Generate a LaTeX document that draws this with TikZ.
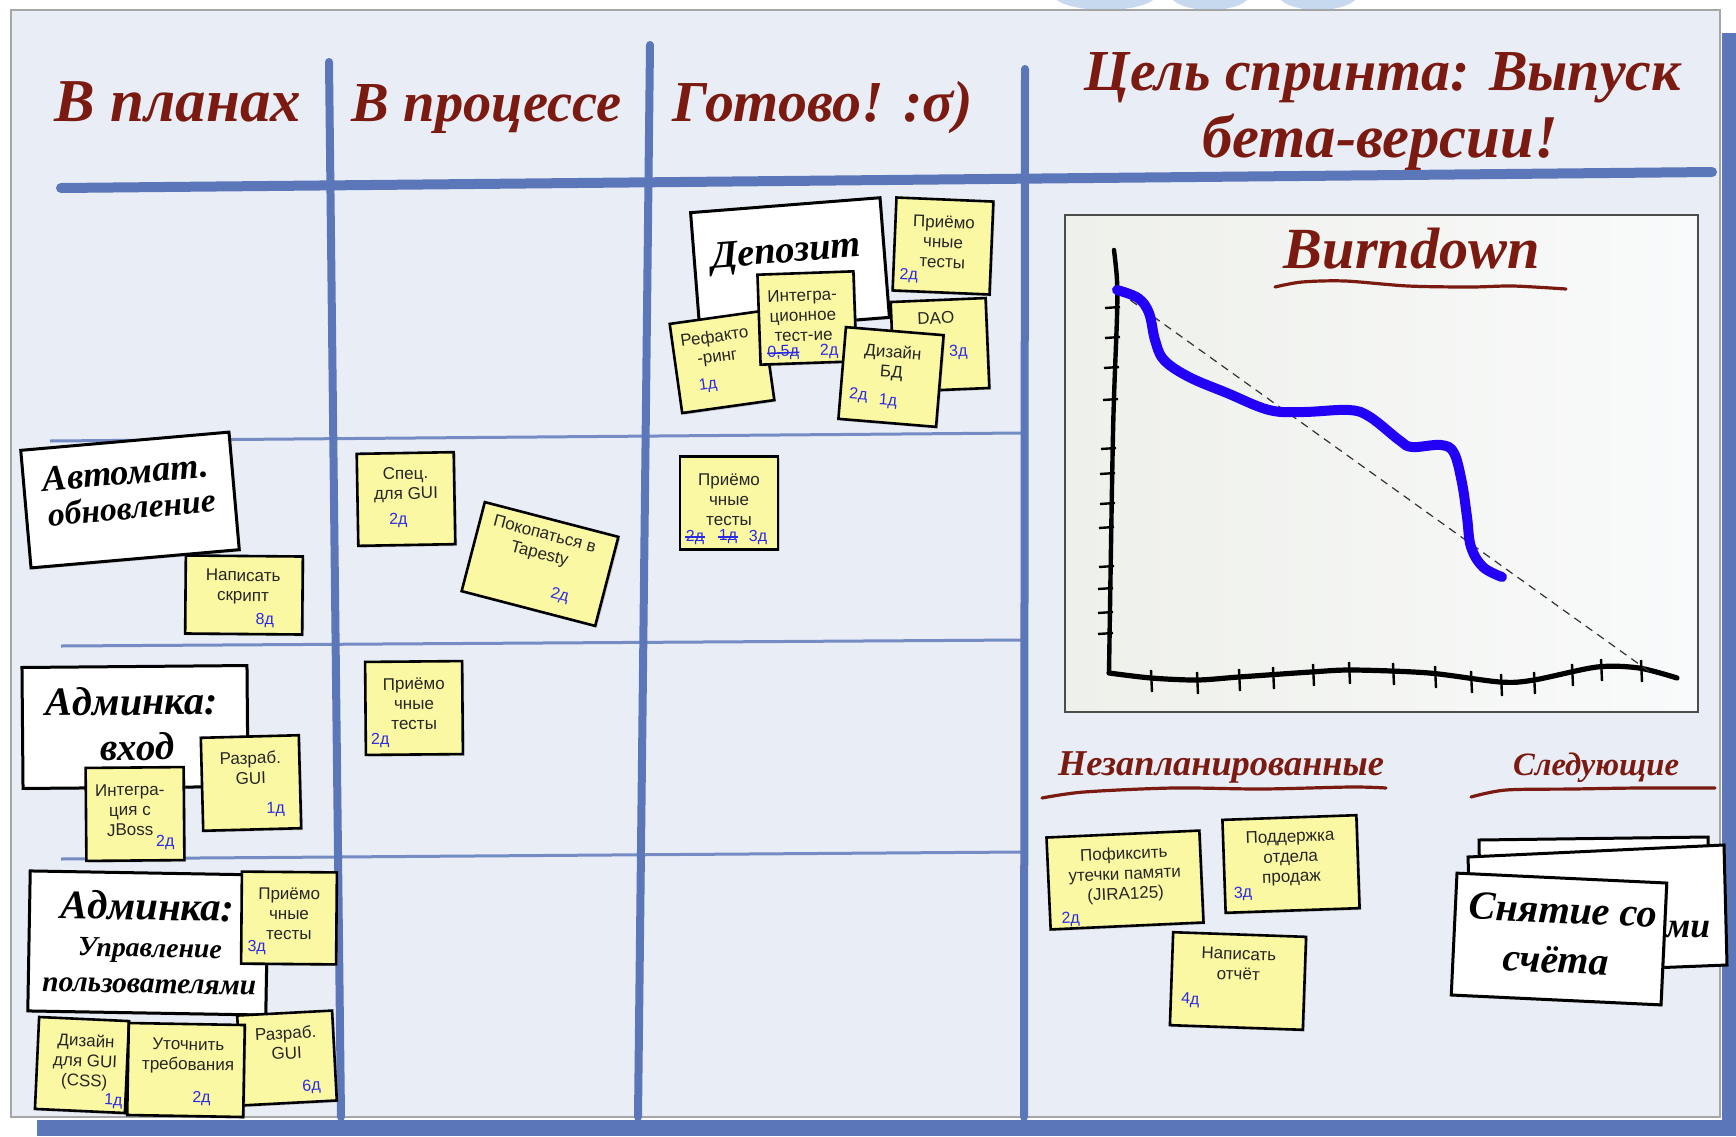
\documentclass[tikz,border=0pt]{standalone}
\usepackage{fontspec}
\setmainfont{Liberation Serif}
\newfontfamily\notefont{Liberation Sans}
\usetikzlibrary{shadows}
\definecolor{board}{HTML}{E9EDF6}
\definecolor{gridblue}{HTML}{5C76BA}
\definecolor{maroonc}{HTML}{7B1A10}
\definecolor{stickyc}{HTML}{FBF8A3}
\definecolor{numblue}{HTML}{2A2AE6}
\definecolor{burnblue}{HTML}{2200F5}
\definecolor{topblue}{HTML}{C6D9EE}
\definecolor{panelL}{HTML}{EEF0EA}
\definecolor{panelR}{HTML}{F9FAFB}
\tikzset{
 wh/.style 2 args={minimum width=#1*0.5pt, minimum height=#2*0.5pt},
 stk/.style={draw=black, line width=1.3pt, fill=stickyc, inner sep=0pt,
   drop shadow={shadow xshift=0.9pt, shadow yshift=-0.9pt, opacity=0.35}},
 crd/.style={draw=black, line width=1.5pt, fill=white, inner sep=0pt,
   drop shadow={shadow xshift=0.9pt, shadow yshift=-0.9pt, opacity=0.35}},
 stt/.style={font=\notefont\fontsize{8.5}{10}\selectfont, text=black!85, align=center, inner sep=0pt},
 num/.style={font=\notefont\fontsize{8}{9}\selectfont, text=numblue, inner sep=0pt},
 strike/.style={draw=numblue, line width=0.8pt},
 hdr/.style={font=\bfseries\itshape, text=maroonc, inner sep=0pt, anchor=base},
 ttl/.style={font=\bfseries\itshape, text=black, inner sep=0pt, anchor=base},
 gridv/.style={draw=gridblue, line width=4pt, line cap=round},
 gridh/.style={draw=gridblue!85, line width=1.5pt},
 wavy/.style={draw=maroonc, line width=1.6pt, line cap=round},
}
\begin{document}
\begin{tikzpicture}[x=0.5pt,y=-0.5pt]
\useasboundingbox (0,0) rectangle (1736,1136);
% faint shapes above the board
\fill[topblue] (1105,-6) ellipse [x radius=26pt, y radius=8pt];
\fill[topblue] (1210,-6) ellipse [x radius=20pt, y radius=8pt];
\fill[topblue] (1318,-6) ellipse [x radius=20pt, y radius=8pt];
% shadow bands
\fill[gridblue] (37,1120) rectangle (1736,1136);
\fill[gridblue] (1722,33) rectangle (1736,1136);
% board
\draw[fill=board, draw=black!35, line width=1.2pt] (11,10) rectangle (1720,1117);
% grid
\draw[gridh] (50,441) -- (1022,433);
\draw[gridh] (61,646) -- (1022,640);
\draw[gridh] (61,859) -- (1022,852);
\draw[gridv] (329,62) -- (341,1117);
\draw[gridv] (650,45) -- (638,1117);
\draw[gridv] (1025,69) -- (1024,1117);
\draw[draw=gridblue, line width=5pt, line cap=round] (61,188) -- (1712,172);
% headers
\node[hdr] (hPlan) at (178,121) {\resizebox{123pt}{!}{В планах}};
\node[hdr] (hProg) at (487,121) {\resizebox{135pt}{!}{В процессе}};
\node[hdr] (hDone) at (823,121) {\resizebox{150pt}{!}{Готово! :σ)}};
\node[hdr] (hGoal1) at (1383,90) {\resizebox{298pt}{!}{Цель спринта: Выпуск}};
\node[hdr] (hGoal2) at (1380,157) {\resizebox{178pt}{!}{бета-версии!}};

% ---------- Planned column ----------
\begin{scope}[shift={(130,500)},rotate=5,transform shape]
 \node[crd,wh={209}{118}] (cAuto) {};
 \node[ttl] (cAutoT1) at (-2,-16) {\resizebox{83pt}{!}{Автомат.}};
 \node[ttl] (cAutoT2) at (1,19) {\resizebox{84pt}{!}{обновление}};
\end{scope}
\begin{scope}[shift={(244,595)},rotate=-0.5,transform shape]
 \node[stk,wh={117}{78}] (nScript) {};
 \node[stt] (nScriptT) at (-1,-8) {Написать\\скрипт};
 \node[num] (nScriptN) at (21,25) {8д};
\end{scope}
\begin{scope}[shift={(135,727)},rotate=0.5,transform shape]
 \node[crd,wh={225}{121}] (cLogin) {};
 \node[ttl] (cLoginT1) at (-3,-12) {\resizebox{86pt}{!}{Админка:}};
 \node[ttl] (cLoginT2) at (2,33) {\resizebox{37pt}{!}{вход}};
\end{scope}
\begin{scope}[shift={(251,783)},rotate=1.5,transform shape]
 \node[stk,wh={98}{93}] (nGui1) {};
 \node[stt] (nGui1T) at (0,-15) {Разраб.\\GUI};
 \node[num] (nGui1N) at (24,27) {1д};
\end{scope}
\begin{scope}[shift={(135,814)},rotate=0.5,transform shape]
 \node[stk,wh={98}{93}] (nJboss) {};
 \node[stt] (nJbossT) at (-5,-4) {Интегра-\\ция с\\JBoss};
 \node[num] (nJbossN) at (30,29) {2д};
\end{scope}
\begin{scope}[shift={(148,943)},rotate=-1,transform shape]
 \node[crd,wh={238}{140}] (cUsers) {};
 \node[ttl] (cUsersT1) at (-1,-23) {\resizebox{87pt}{!}{Админка:}};
 \node[ttl] (cUsersT2) at (2,14) {\resizebox{72pt}{!}{Управление}};
 \node[ttl] (cUsersT3) at (2,50) {\resizebox{107pt}{!}{пользователями}};
\end{scope}
\begin{scope}[shift={(289,918)},rotate=-0.5,transform shape]
 \node[stk,wh={95}{92}] (nAcc3) {};
 \node[stt] (nAcc3T) at (0,-4) {Приёмо\\чные\\тесты};
 \node[num] (nAcc3N) at (-32,30) {3д};
\end{scope}
\begin{scope}[shift={(287,1058)},rotate=3,transform shape]
 \node[stk,wh={95}{90}] (nGui6) {};
 \node[stt] (nGui6T) at (0,-15) {Разраб.\\GUI};
 \node[num] (nGui6N) at (23,30) {6д};
\end{scope}
\begin{scope}[shift={(82,1065)},rotate=-2.6,transform shape]
 \node[stk,wh={90}{92}] (nCss) {};
 \node[stt] (nCssT) at (3,-3) {Дизайн\\для GUI\\(CSS)};
 \node[num] (nCssN) at (33,35) {1д};
\end{scope}
\begin{scope}[shift={(186,1070)},rotate=-1,transform shape]
 \node[stk,wh={116}{92}] (nReq) {};
 \node[stt] (nReqT) at (2,-14) {Уточнить\\требования};
 \node[num] (nReqN) at (16,28) {2д};
\end{scope}

% ---------- In progress column ----------
\begin{scope}[shift={(406,499)},rotate=1,transform shape]
 \node[stk,wh={97}{92}] (nSpec) {};
 \node[stt] (nSpecT) at (0,-14) {Спец.\\для GUI};
 \node[num] (nSpecN) at (-8,21) {2д};
\end{scope}
\begin{scope}[shift={(540,564)},rotate=-14.6,transform shape]
 \node[stk,wh={138}{92}] (nTap) {};
 \node[stt] (nTapT) at (-3,-19) {Покопаться в\\Tapesty};
 \node[num] (nTapN) at (27,26) {2д};
\end{scope}
\begin{scope}[shift={(414,708)},rotate=0.5,transform shape]
 \node[stk,wh={97}{93}] (nAcc2) {};
 \node[stt] (nAcc2T) at (0,-4) {Приёмо\\чные\\тесты};
 \node[num] (nAcc2N) at (-34,32) {2д};
\end{scope}

% ---------- Done column ----------
\begin{scope}[shift={(790,265)},rotate=4.5,transform shape]
 \node[crd,wh={190}{120}] (cDep) {};
 \node[ttl] (cDepT) at (-3,-3) {\resizebox{75pt}{!}{Депозит}};
\end{scope}
\begin{scope}[shift={(943,246)},rotate=-2.4,transform shape]
 \node[stk,wh={97}{93}] (nAccD) {};
 \node[stt] (nAccDT) at (0,-4) {Приёмо\\чные\\тесты};
 \node[num] (nAccDN) at (-33,31) {2д};
\end{scope}
\begin{scope}[shift={(940,345)},rotate=2.4,transform shape]
 \node[stk,wh={95}{90}] (nDao) {};
 \node[stt] (nDaoT) at (-3,-27) {DAO};
 \node[num] (nDaoN) at (18,8) {3д};
\end{scope}
\begin{scope}[shift={(722,362)},rotate=8,transform shape]
 \node[stk,wh={93}{90}] (nRef) {};
 \node[stt] (nRefT) at (-4,-15) {Рефакто\\-ринг};
 \node[num] (nRefN) at (-17,21) {1д};
\end{scope}
\begin{scope}[shift={(807,318)},rotate=2,transform shape]
 \node[stk,wh={96}{90}] (nInt) {};
 \node[stt] (nIntT) at (-4,-3) {Интегра-\\ционное\\тест-ие};
 \node[num] (nIntN1) at (-25,34) {0,5д};
 \node[num] (nIntN2) at (21,34) {2д};
 \draw[strike] (nIntN1.west) -- (nIntN1.east);
\end{scope}
\begin{scope}[shift={(891,377)},rotate=-4.7,transform shape]
 \node[stk,wh={98}{92}] (nDb) {};
 \node[stt] (nDbT) at (0,-14) {Дизайн\\БД};
 \node[num] (nDbN1) at (-31,21) {2д};
 \node[num] (nDbN2) at (-1,25) {1д};
\end{scope}
\begin{scope}[shift={(729,503)},rotate=0,transform shape]
 \node[stk,wh={98}{93}] (nAccR) {};
 \node[stt] (nAccRT) at (0,-3) {Приёмо\\чные\\тесты};
 \node[num] (nAccRN1) at (-34,34) {2д};
 \node[num] (nAccRN2) at (-1,34) {1д};
 \node[num] (nAccRN3) at (29,34) {3д};
 \draw[strike] (nAccRN1.west) -- (nAccRN1.east);
 \draw[strike] (nAccRN2.west) -- (nAccRN2.east);
\end{scope}

% ---------- Burndown ----------
\path[left color=panelL, right color=panelR, draw=black!70, line width=1.2pt] (1065,215) rectangle (1698,712);
\node[hdr] (hBurn) at (1412,268) {\resizebox{128pt}{!}{Burndown}};
\draw[wavy] plot[smooth] coordinates {(1275,287) (1302,282) (1345,281) (1408,286) (1471,287) (1513,286) (1566,289)};
\draw[black, line width=2.2pt, line cap=round] plot[smooth] coordinates {(1114,250) (1117,280) (1117,317) (1113,433) (1109,673)};
\draw[black, line width=2.6pt, line cap=round] plot[smooth] coordinates {(1109,673) (1151,678) (1197,680) (1239,677) (1311,672) (1353,670) (1429,673) (1500,682) (1534,680) (1597,667) (1639,668) (1677,678)};
\foreach \ty/\ax in {307/1117, 337/1117, 367/1116, 399/1115, 448/1113, 473/1112, 503/1112, 527/1111, 566/1111, 588/1110, 612/1110, 633/1110}
  \draw[black, line width=1.2pt] (\ax-12,\ty+1) -- (\ax+3,\ty);
\foreach \tx/\ay in {1151/678, 1197/680, 1239/677, 1273/675, 1313/672, 1349/670, 1393/671, 1435/674, 1471/679, 1501/682, 1534/680, 1572/672, 1601/667, 1641/668}
  \draw[black, line width=1.2pt] (\tx,\ay-8) -- (\tx+1,\ay+14);
\draw[black!80, line width=0.6pt, dash pattern=on 4pt off 3pt] (1119,292) -- (1650,672);
\draw[burnblue, line width=5pt, line cap=round, line join=round] plot[smooth, tension=0.6] coordinates {(1117,290) (1138,298) (1149,313) (1155,340) (1164,360) (1189,377) (1227,393) (1269,410) (1303,412) (1349,410) (1370,417) (1399,440) (1412,447) (1441,445) (1454,453) (1462,483) (1467,517) (1471,547) (1483,567) (1502,577)};

% ---------- Unplanned ----------
\node[hdr] (hUnpl) at (1221,775) {\resizebox{163pt}{!}{Незапланированные}};
\draw[wavy] plot[smooth] coordinates {(1042,798) (1084,792) (1173,788) (1262,789) (1351,787) (1386,788)};
\begin{scope}[shift={(1125,880)},rotate=2.6,transform shape]
 \node[stk,wh={153}{92}] (nLeak) {};
 \node[stt] (nLeakT) at (0,-5) {Пофиксить\\утечки памяти\\(JIRA125)};
 \node[num] (nLeakN) at (-56,37) {2д};
\end{scope}
\begin{scope}[shift={(1291,864)},rotate=2,transform shape]
 \node[stk,wh={134}{93}] (nSales) {};
 \node[stt] (nSalesT) at (0,-6) {Поддержка\\отдела\\продаж};
 \node[num] (nSalesN) at (-49,28) {3д};
\end{scope}
\begin{scope}[shift={(1238,981)},rotate=-2,transform shape]
 \node[stk,wh={133}{93}] (nRep) {};
 \node[stt] (nRepT) at (0,-17) {Написать\\отчёт};
 \node[num] (nRepN) at (-47,21) {4д};
\end{scope}

% ---------- Next ----------
\node[hdr] (hNext) at (1596,775) {\resizebox{83pt}{!}{Следующие}};
\draw[wavy] plot[smooth] coordinates {(1471,797) (1506,790) (1573,789) (1639,788) (1715,788)};
\draw[fill=white, draw=black, line width=1.5pt] (1479,840) -- (1708,837) -- (1710,955) -- (1481,960) -- cycle;
\draw[fill=white, draw=black, line width=1.5pt] (1468,857) -- (1724,845) -- (1727,965) -- (1472,975) -- cycle;
\node[ttl, anchor=center] (cNextB) at (1688,930) {\resizebox{22pt}{!}{ми}};
\begin{scope}[shift={(1559,939)},rotate=-2.7,transform shape]
 \node[crd,wh={210}{122}] (cWithdraw) {};
 \node[ttl] (cWithdrawT1) at (3,-16) {\resizebox{94pt}{!}{Снятие со}};
 \node[ttl] (cWithdrawT2) at (-2,34) {\resizebox{53pt}{!}{счёта}};
\end{scope}
\end{tikzpicture}
\end{document}
